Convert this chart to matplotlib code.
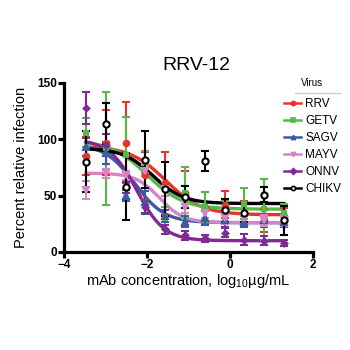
import numpy as np
import matplotlib
matplotlib.use("Agg")
import matplotlib.pyplot as plt
from matplotlib.lines import Line2D

plt.rcParams['font.family'] = ['Liberation Sans', 'DejaVu Sans']
plt.rcParams['mathtext.fontset'] = 'custom'
plt.rcParams['mathtext.rm'] = 'Liberation Sans'

# 3-fold dilutions from 20 ug/mL, log10 scale
conc = [20 / 3 ** k for k in range(10, -1, -1)]
log_conc = np.log10(conc)

viruses = ["RRV", "GETV", "SAGV", "MAYV", "ONNV", "CHIKV"]

rrv = [85, 97, 97, 68, 61, 52, 39, 42, 35, 28, 31]
rrv_sd = [17, 29, 36, 21, 28, 20, 14, 12, 10, 10, 8]
getv = [106, 92, 86, 80, 30, 52, 40, 35, 43, 38, 35]
getv_sd = [13, 50, 34, 10, 10, 23, 13, 10, 14, 27, 8]
sagv = [93, 88, 50, 44, 32, 27, 30, 28, 27, 28, 27]
sagv_sd = [8, 10, 5, 10, 5, 5, 6, 6, 5, 6, 5]
mayv = [55, 70, 68, 72, 56, 40, 35, 30, 30, 28, 28]
mayv_sd = [8, 4, 4, 5, 6, 5, 5, 5, 5, 5, 5]
onnv = [128, 95, 57, 40, 20, 15, 12, 17, 11, 10, 8]
onnv_sd = [14, 10, 5, 5, 4, 4, 3, 4, 5, 4, 3]
chikv = [80, 114, 58, 82, 56, 49, 81, 37, 35, 51, 28]
chikv_sd = [27, 18, 30, 25, 24, 10, 9, 10, 8, 7, 13]

# fitted curve parameters: top, bottom, logEC50, hill slope
fit_top = [94, 99, 96, 70, 100, 92]
fit_bottom = [33, 38, 26, 26, 10, 43]
fit_logec50 = [-1.55, -2.0, -2.3, -1.7, -2.25, -1.85]
fit_hill = [1.0, 1.0, 1.2, 1.5, 1.3, 1.2]

values = [rrv, getv, sagv, mayv, onnv, chikv]
errors = [rrv_sd, getv_sd, sagv_sd, mayv_sd, onnv_sd, chikv_sd]

colors = ["#E5352B", "#55B847", "#3D58A7", "#D584C6", "#7E2B95", "black"]
markers = ["o", "s", "^", "v", "D", "o"]
msizes = [4, 3.5, 4, 4, 3, 4.5]

fig = plt.figure(figsize=(3.5, 3.5), dpi=100)
ax = fig.add_axes([0.183, 0.28, 0.711, 0.483])

xs = np.linspace(log_conc[0], log_conc[-1], 200)
handles = []
for i in range(len(viruses)):
    top, bot, ec, h = fit_top[i], fit_bottom[i], fit_logec50[i], fit_hill[i]
    ys = bot + (top - bot) / (1 + 10 ** ((xs - ec) * h))
    ax.plot(xs, ys, color=colors[i], linewidth=2.4, zorder=2)
    face = "white" if viruses[i] == "CHIKV" else colors[i]
    ax.errorbar(log_conc, values[i], yerr=errors[i], fmt=markers[i], color=colors[i],
                mfc=face, mec=colors[i], mew=1.5, ms=msizes[i], elinewidth=1.5,
                capsize=2.6, capthick=1.5, zorder=3)
    handles.append(Line2D([0], [0], color=colors[i], marker=markers[i], mfc=face,
                          mec=colors[i], mew=1.2, ms=3, linewidth=1.8))

ax.set_xlim(-4, 2)
ax.set_ylim(0, 150)
ax.set_xticks([-4, -2, 0, 2])
ax.set_yticks([0, 50, 100, 150])
ax.spines["top"].set_visible(False)
ax.spines["right"].set_visible(False)
ax.spines["left"].set_linewidth(2.3)
ax.spines["bottom"].set_linewidth(2.3)
ax.tick_params(width=2.3, length=4, labelsize=8.5, pad=1)
for lab in ax.get_xticklabels() + ax.get_yticklabels():
    lab.set_fontweight("bold")

ax.set_xlabel("mAb concentration, log$_{10}$\u00b5g/mL", fontsize=10.5, labelpad=1)
ax.set_ylabel("Percent relative infection", fontsize=10.5, labelpad=7)
fig.text(0.56, 0.814, "RRV-12", fontsize=14, ha="center", va="center")

# legend with its title drawn separately, underlined
fig.text(0.891, 0.763, "Virus", fontsize=7, ha="center", va="center")
fig.add_artist(Line2D([0.843, 0.972], [0.734, 0.734], color="#cccccc", linewidth=1))
leg = fig.legend(handles, viruses, loc="upper left", bbox_to_anchor=(0.812, 0.72),
                 frameon=False, fontsize=8.5,
                 handlelength=1.45, handletextpad=0.35, labelspacing=0.42,
                 borderpad=0, borderaxespad=0)

fig.savefig("out.png", dpi=100, facecolor="white")
